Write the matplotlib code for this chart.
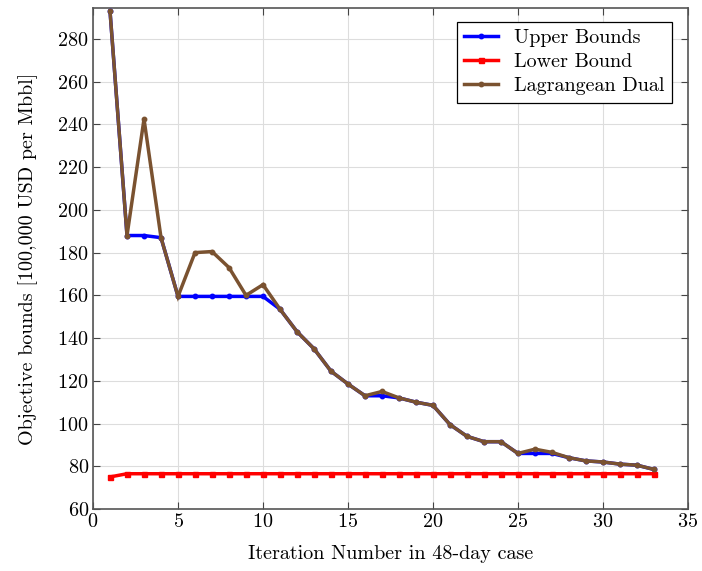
import numpy as np
import matplotlib
matplotlib.use("Agg")
import matplotlib.pyplot as plt

plt.rcParams['font.family'] = ['cmr10', 'DejaVu Serif']
plt.rcParams['mathtext.fontset'] = 'cm'
plt.rcParams['axes.formatter.use_mathtext'] = True

iters = list(range(1, 34))

upper = [293, 188, 188, 187, 159.5, 159.5, 159.5, 159.5, 159.5, 159.5,
         153.5, 143, 135, 124.5, 118.5, 113, 113, 112, 110, 108.5,
         99.5, 94, 91.5, 91.5, 86, 86, 86, 84, 82.5, 82, 81, 80.5, 78.5]

lower = [75] + [76.5] * 32

dual = [293, 188, 242.5, 187, 159.5, 180, 180.5, 173, 160, 165,
        153.5, 143, 135, 124.5, 118.5, 113, 115, 112, 110, 108.5,
        99.5, 94, 91.5, 91.5, 86, 88, 86.5, 84, 82.5, 82, 81, 80.5, 78.5]

fig = plt.figure(figsize=(7.02, 5.71), dpi=100)
ax = fig.add_axes([0.1325, 0.1086, 0.8475, 0.8774])

ax.plot(iters, upper, color='blue', lw=2.5, marker='o', ms=3.2,
        solid_joinstyle='miter', label='Upper Bounds', zorder=3)
ax.plot(iters, lower, color='red', lw=2.5, marker='s', ms=3.6,
        solid_joinstyle='miter', label='Lower Bound', zorder=3)
ax.plot(iters, dual, color='#7a5230', lw=2.5, marker='o', ms=3.2,
        solid_joinstyle='miter', label='Lagrangean Dual', zorder=4)

ax.set_xlim(0, 35)
ax.set_ylim(60, 294.5)
ax.set_xticks(range(0, 36, 5))
ax.set_yticks(range(60, 281, 20))
ax.grid(True, color='#dddddd', lw=0.8)
ax.set_axisbelow(True)
ax.tick_params(direction='in', top=True, right=True, labelsize=14.5, length=5,
               width=0.8, color='#444444', pad=3)
for s in ax.spines.values():
    s.set_color('#555555')
    s.set_linewidth(1.2)

ax.set_xlabel('Iteration Number in 48-day case', fontsize=14.5, labelpad=10)
ax.set_ylabel('Objective bounds [100,000 USD per Mbbl]', fontsize=14.5, labelpad=14)

leg = ax.legend(loc='upper right', bbox_to_anchor=(0.98, 0.98), fontsize=14.5,
                fancybox=False, edgecolor='black', framealpha=1,
                handlelength=1.7, borderpad=0.35, labelspacing=0.3,
                handletextpad=0.8, borderaxespad=0.2)
leg.get_frame().set_linewidth(0.9)

fig.savefig('out.png', dpi=100)
